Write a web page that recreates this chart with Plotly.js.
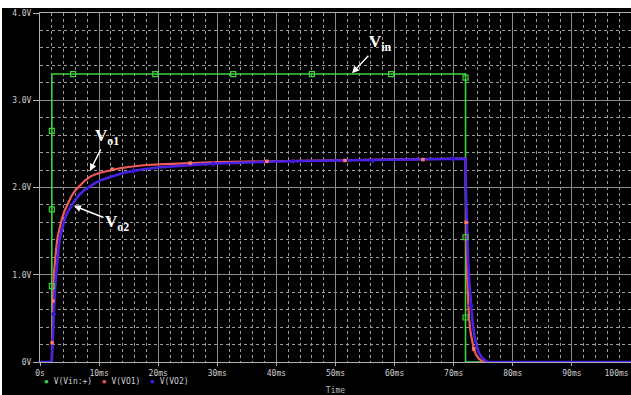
<!DOCTYPE html>
<html>
<head>
<meta charset="utf-8">
<script src="https://cdn.plot.ly/plotly-3.0.1.min.js"></script>
<style>
html,body{margin:0;padding:0;background:#fff;width:631px;height:395px;overflow:hidden;}
#chart{position:absolute;left:2px;top:8px;width:629px;height:387px;}
</style>
</head>
<body>
<div id="chart"></div>
<script>
// Time (ms) and voltages (V)
const vinT = [0, 2.0, 2.0, 72.0, 72.0, 100];
const vinV = [0, 0, 3.3, 3.3, 0, 0];

const vo1T = [0, 2.0, 2.03, 2.08, 2.15, 2.25, 2.4, 2.6, 2.8, 3.0, 3.3, 3.7, 4.2, 4.7, 5.3, 6.0, 6.8, 7.6, 8.5, 9.5, 10.5, 12, 13.5, 15, 17.5, 20, 25, 30, 35, 40, 50, 60, 72.0,
              72.02, 72.08, 72.15, 72.25, 72.4, 72.6, 72.85, 73.1, 73.4, 73.8, 74.3, 74.8, 75.3, 100];
const vo1V = [0, 0, 0.15, 0.35, 0.55, 0.8, 1.05, 1.22, 1.34, 1.44, 1.54, 1.64, 1.74, 1.82, 1.9, 1.97, 2.03, 2.08, 2.125, 2.155, 2.175, 2.2, 2.22, 2.235, 2.255, 2.265, 2.28, 2.29, 2.297, 2.303, 2.313, 2.322, 2.33,
              2.1, 1.7, 1.35, 1.0, 0.72, 0.5, 0.34, 0.23, 0.15, 0.08, 0.035, 0.01, 0, 0];

const vo2T = [0, 2.0, 2.05, 2.12, 2.2, 2.3, 2.4, 2.5, 2.65, 2.8, 3.0, 3.2, 3.5, 3.8, 4.2, 4.6, 5.0, 5.5, 6.0, 6.7, 7.5, 8.4, 9.3, 10.5, 12, 13.5, 15, 17.5, 20, 23.6, 27, 30, 35, 40, 50, 60, 72.0,
              72.05, 72.15, 72.3, 72.45, 72.65, 72.9, 73.2, 73.5, 73.9, 74.3, 74.8, 75.3, 75.8, 100];
const vo2V = [0, 0, 0.08, 0.22, 0.38, 0.55, 0.68, 0.79, 0.94, 1.06, 1.2, 1.34, 1.46, 1.55, 1.64, 1.71, 1.76, 1.81, 1.86, 1.92, 1.97, 2.01, 2.05, 2.09, 2.125, 2.155, 2.18, 2.21, 2.23, 2.25, 2.265, 2.275, 2.29, 2.298, 2.31, 2.32, 2.33,
              2.0, 1.7, 1.38, 1.15, 0.9, 0.65, 0.45, 0.3, 0.18, 0.1, 0.05, 0.02, 0, 0];

// Probe markers
const vinMarkT = [2, 2, 2, 5.6, 19.5, 32.7, 46.0, 59.4, 72, 72, 72];
const vinMarkV = [0.87, 1.75, 2.65, 3.3, 3.3, 3.3, 3.3, 3.3, 3.26, 1.43, 0.51];
const vo1MarkT = [2.05, 2.2, 12.2, 25.4, 38.4, 51.6, 64.8, 72.1, 73.4];
const vo1MarkV = [0.22, 0.7, 2.21, 2.28, 2.30, 2.31, 2.32, 1.6, 0.15];
const vo2MarkT = [2.3, 15.8, 29.3, 42.8, 56.3, 69.9, 72.9];
const vo2MarkV = [0.55, 2.19, 2.27, 2.30, 2.31, 2.33, 0.65];

const xTickVals = [0, 10, 20, 30, 40, 50, 60, 70, 80, 90, 100];
const xTickText = ['0s', '10ms', '20ms', '30ms', '40ms', '50ms', '60ms', '70ms', '80ms', '90ms', '100ms\u00a0\u00a0\u00a0\u00a0\u00a0\u00a0'];
const yTickVals = [0, 1, 2, 3, 4];
const yTickText = ['0V', '1.0V', '2.0V', '3.0V', '4.0V'];

const cGreen = '#3fd23f', cRed = '#f05a5a', cBlue = '#4a22e6';

const traces = [
  {x: vinT, y: vinV, mode: 'lines', line: {color: cGreen, width: 1.6}, hoverinfo: 'skip'},
  {x: vo1T, y: vo1V, mode: 'lines', line: {color: cRed, width: 2.2}, hoverinfo: 'skip'},
  {x: vo2T, y: vo2V, mode: 'lines', line: {color: cBlue, width: 2.6}, hoverinfo: 'skip'},
  {x: vinMarkT, y: vinMarkV, mode: 'markers', marker: {symbol: 'square-open', size: 5, color: cGreen, line: {width: 1.2, color: cGreen}}, hoverinfo: 'skip'},
  {x: vo1MarkT, y: vo1MarkV, mode: 'markers', marker: {symbol: 'square', size: 3.5, color: '#ff7a6a'}, hoverinfo: 'skip'},
  {x: vo2MarkT, y: vo2MarkV, mode: 'markers', marker: {symbol: 'diamond', size: 4.5, color: '#3a18d0'}, hoverinfo: 'skip'}
];

const tickFont = {family: 'DejaVu Sans Mono', size: 8, color: '#cfcfcf'};
const annFont = {family: 'Liberation Serif', size: 17, color: '#ffffff'};

const layout = {
  width: 629, height: 387,
  margin: {l: 38, r: 0, t: 5, b: 33},
  paper_bgcolor: '#000000',
  plot_bgcolor: '#000000',
  showlegend: false,
  xaxis: {
    range: [0, 100], tickvals: xTickVals, ticktext: xTickText,
    ticklabeloverflow: 'allow',
    showgrid: true, gridcolor: '#8c8c8c', gridwidth: 1,
    minor: {dtick: 2, showgrid: true, gridcolor: '#9a9a9a', griddash: 'dot', gridwidth: 1, ticks: ''},
    zeroline: false, showline: true, linecolor: '#b0b0b0', mirror: true,
    ticks: 'outside', ticklen: 3, tickcolor: '#b0b0b0',
    tickfont: tickFont, fixedrange: true,
    title: {text: 'Time', font: {family: 'DejaVu Sans Mono', size: 8, color: '#bbbbbb'}, standoff: 14}
  },
  yaxis: {
    range: [0, 4], tickvals: yTickVals, ticktext: yTickText,
    showgrid: true, gridcolor: '#8c8c8c', gridwidth: 1,
    minor: {dtick: 0.2, showgrid: true, gridcolor: '#9a9a9a', griddash: 'dot', gridwidth: 1, ticks: ''},
    zeroline: false, showline: true, linecolor: '#b0b0b0', mirror: true,
    ticks: 'outside', ticklen: 6, tickcolor: '#b0b0b0',
    tickfont: tickFont, fixedrange: true
  },
  annotations: [
    {x: 52.8, y: 3.31, xref: 'x', yref: 'y', text: '<b>V<sub>in</sub></b>', font: annFont,
     showarrow: true, ax: 28, ay: -30, arrowcolor: '#ffffff', arrowwidth: 1.4, arrowhead: 2, arrowsize: 1},
    {x: 8.46, y: 2.19, xref: 'x', yref: 'y', text: '<b>V<sub>o1</sub></b>', font: annFont,
     showarrow: true, ax: 17, ay: -34, arrowcolor: '#ffffff', arrowwidth: 1.4, arrowhead: 2, arrowsize: 1},
    {x: 5.75, y: 1.79, xref: 'x', yref: 'y', text: '<b>V<sub>o2</sub></b>', font: annFont,
     showarrow: true, ax: 43, ay: 17, arrowcolor: '#ffffff', arrowwidth: 1.4, arrowhead: 2, arrowsize: 1},
    {x: 0, y: 0, xref: 'paper', yref: 'paper', xanchor: 'left', yanchor: 'middle', xshift: 2, yshift: -19,
     showarrow: false, font: {family: 'DejaVu Sans Mono', size: 8, color: '#cfcfcf'},
     text: '<span style="color:' + cGreen + '">\u25aa</span> V(Vin:+)\u00a0\u00a0<span style="color:' + cRed + '">\u25aa</span> V(VO1)\u00a0\u00a0<span style="color:' + cBlue + '">\u25aa</span> V(VO2)'}
  ]
};

Plotly.newPlot('chart', traces, layout, {staticPlot: true, displayModeBar: false});
</script>
</body>
</html>
